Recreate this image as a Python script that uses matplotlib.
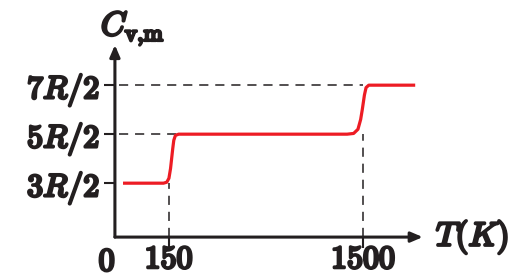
import matplotlib.pyplot as plt
import matplotlib.patheffects as pe

plt.rcParams['mathtext.fontset'] = 'cm'
plt.rcParams['font.family'] = 'serif'
plt.rcParams['font.serif'] = ['DejaVu Serif']

# x is a drawing position (150 K -> 1.0, 1500 K -> 4.6), y in units of R/2
curve_x = [0.15, 0.80, 0.90, 0.96, 1.00, 1.03, 1.05, 1.07, 1.09, 1.12, 1.18, 1.30,
           3.00, 4.30, 4.42, 4.50, 4.55, 4.58, 4.60, 4.62, 4.65, 4.70, 4.80, 5.00, 5.56]
curve_y = [3.0, 3.0, 3.0, 3.04, 3.2, 3.6, 4.0, 4.4, 4.75, 4.95, 5.0, 5.0,
           5.0, 5.0, 5.03, 5.2, 5.6, 6.0, 6.3, 6.6, 6.9, 7.0, 7.0, 7.0, 7.0]
T_pos = [1.0, 4.6]
T_labels = [r'$150$', r'$1500$']
levels = [3, 5, 7]
level_labels = [r'$3R/2$', r'$5R/2$', r'$7R/2$']

ink = '#231f20'
bold = [pe.withStroke(linewidth=2.0, foreground=ink)]

fig = plt.figure(figsize=(5.2, 2.76), dpi=100)
ax = fig.add_axes([0.221, 0.141, 0.592, 0.696])
ax.set_xlim(0, 5.7)
ax.set_ylim(0.8, 8.64)

for s in ['top', 'right', 'left', 'bottom']:
    ax.spines[s].set_visible(False)

# axes with arrows
for tip in [(0, 1.0), (1.0, 0)]:
    ax.annotate('', xy=tip, xytext=(0, 0), xycoords='axes fraction',
                arrowprops=dict(arrowstyle='-|>,head_length=0.7,head_width=0.3',
                                lw=2.2, color=ink, shrinkA=0, shrinkB=0))

dash = dict(color=ink, lw=1.1, ls=(0, (6, 4.5)))
ax.plot([0.08, 4.6], [7, 7], **dash)
ax.plot([0.08, 1.15], [5, 5], **dash)
ax.plot([1.0, 1.0], [0.8, 3.0], **dash)
ax.plot([4.6, 4.6], [0.8, 5.0], **dash)

ax.plot(curve_x, curve_y, color='#ed1c24', lw=2.3, solid_capstyle='butt')

ax.set_xticks(T_pos)
ax.set_xticklabels(T_labels)
ax.set_yticks(levels)
ax.set_yticklabels(level_labels)
ax.tick_params(axis='both', direction='out', length=8, width=1.5, color=ink,
               labelsize=23, labelcolor=ink)
ax.tick_params(axis='x', pad=-3)
ax.tick_params(axis='y', pad=3)
for lab in ax.get_xticklabels() + ax.get_yticklabels():
    lab.set_path_effects(bold)

fig.text(107 / 520, 1 - 262 / 276, r'$0$', fontsize=23, color=ink,
         ha='center', va='center', path_effects=bold)
fig.text(436 / 520, 1 - 237 / 276, r'$T(K)$', fontsize=24, color=ink,
         ha='left', va='center', path_effects=bold)
fig.text(101 / 520, 1 - 28 / 276, r'$C_{\mathrm{v{,}m}}$', fontsize=24, color=ink,
         ha='left', va='center', path_effects=bold)

fig.savefig('out.png', dpi=100)
